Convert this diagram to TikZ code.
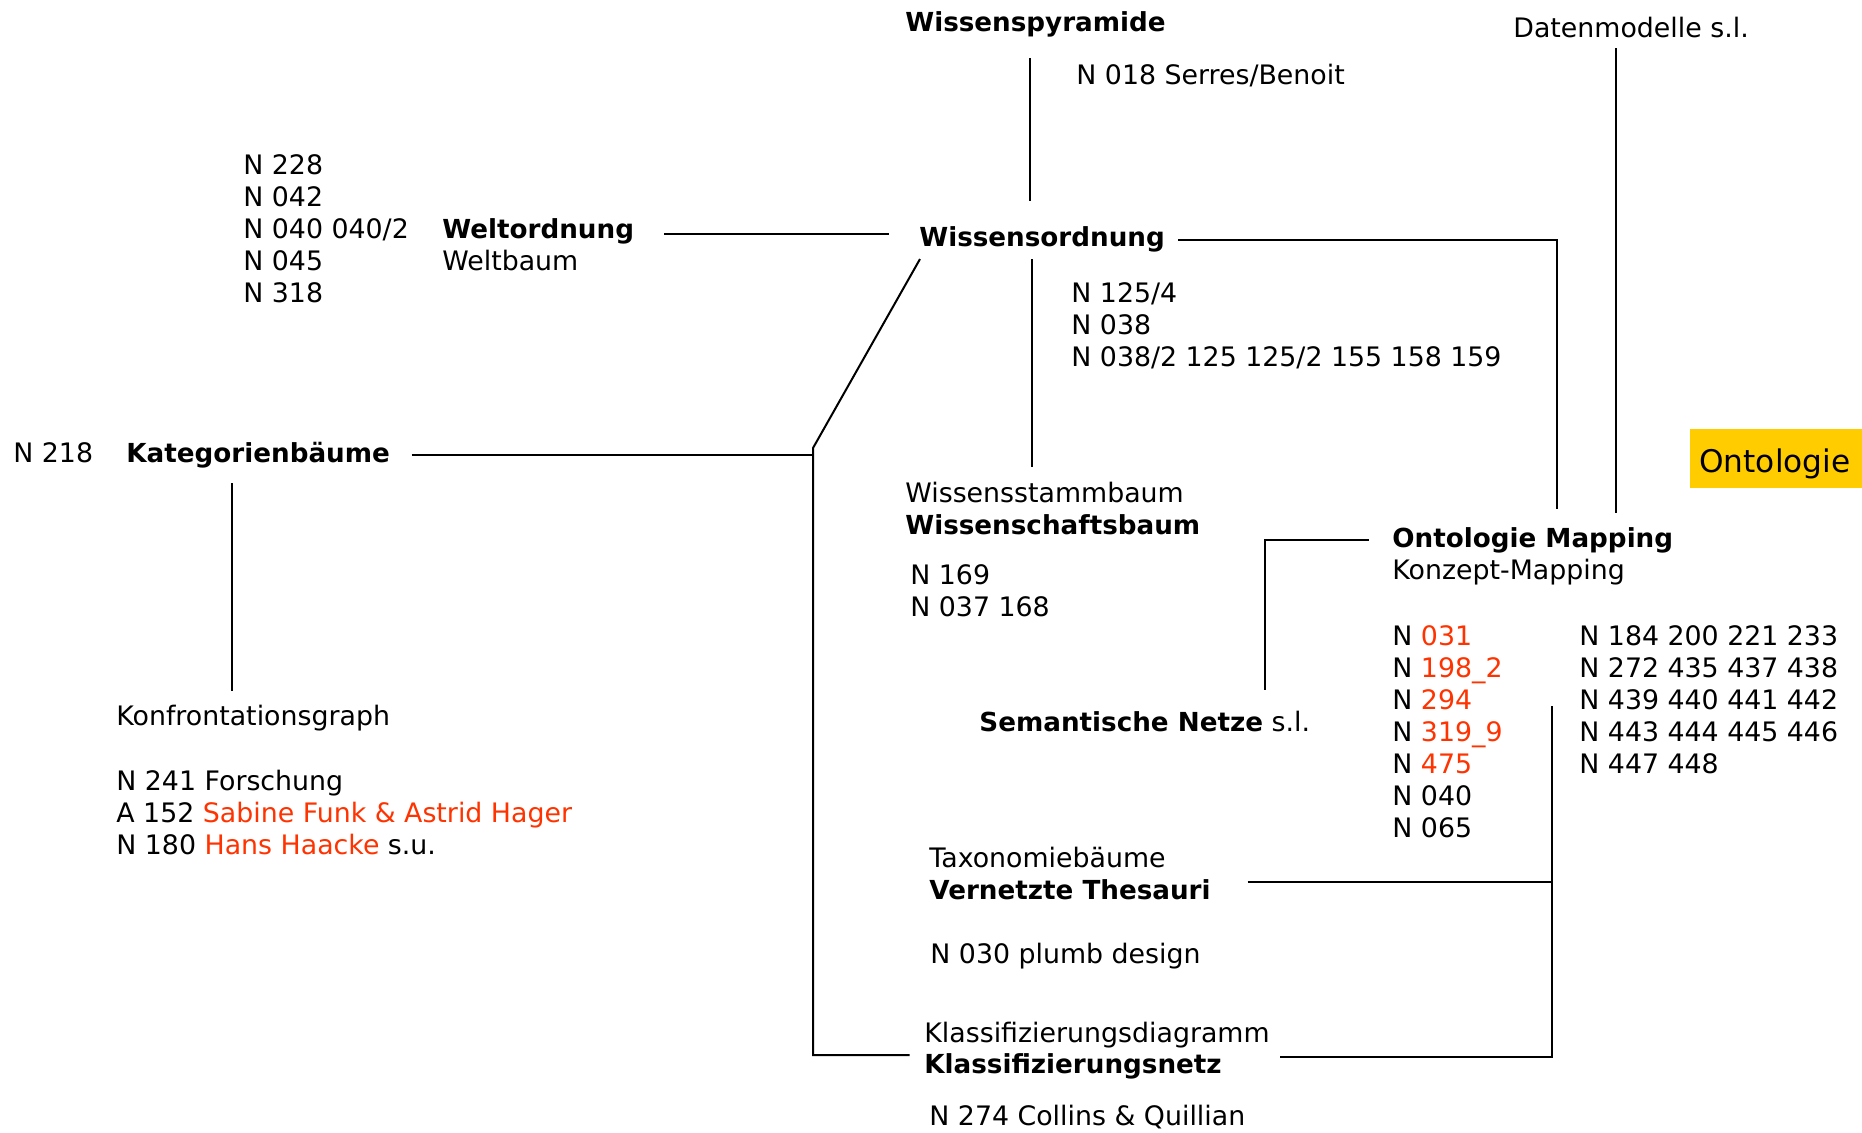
\documentclass[tikz,border=0pt]{standalone}
\usepackage{fontspec}
\setmainfont{DejaVu Sans}
\definecolor{hl}{HTML}{FF3300}
\definecolor{gold}{HTML}{FFCC00}
\newcommand\mybold[1]{{\fontsize{13.1}{16}\selectfont\bfseries #1}}
\begin{document}
\begin{tikzpicture}[x=0.5pt,y=-0.5pt,
  txt/.style={anchor=base west, inner sep=0pt, font=\fontsize{13.4}{16}\selectfont},
  bt/.style={txt, font=\fontsize{13.1}{16}\selectfont\bfseries},
  conn/.style={line width=1pt, black}]
\useasboundingbox (0,0) rectangle (1862,1132);

% texts
\node[bt]  (wp)  at (905,31)  {Wissenspyramide};
\node[txt] (sb)  at (1076,84) {N 018 Serres/Benoit};
\node[txt] (dm)  at (1513,37) {Datenmodelle s.l.};

\node[txt] (l1) at (243,174) {N 228};
\node[txt] (l2) at (243,206) {N 042};
\node[txt] (l3) at (243,238) {N 040 040/2};
\node[txt] (l4) at (243,270) {N 045};
\node[txt] (l5) at (243,302) {N 318};
\node[bt]  (wo) at (442,238) {Weltordnung};
\node[txt] (wb) at (442,270) {Weltbaum};

\node[bt]  (wso) at (919,246) {Wissensordnung};
\node[txt] (w1) at (1071,302) {N 125/4};
\node[txt] (w2) at (1071,334) {N 038};
\node[txt] (w3) at (1071,366) {N 038/2 125 125/2 155 158 159};

\node[txt] (n218) at (13,462) {N 218};
\node[bt]  (kb)   at (126,462) {Kategorienbäume};

\node[fill=gold, inner sep=0pt, minimum width=86pt, minimum height=29.5pt, anchor=north west] (ont) at (1690,429) {};
\node[txt, font=\fontsize{15.6}{18}\selectfont] (ontT) at (1699,472) {Ontologie};

\node[txt] (wsb)  at (905,502) {Wissensstammbaum};
\node[bt]  (wsch) at (905,534) {Wissenschaftsbaum};
\node[txt] (n169) at (910,584.5) {N 169};
\node[txt] (n037) at (910,616.5) {N 037 168};

\node[bt]  (om) at (1392,547) {Ontologie Mapping};
\node[txt] (km) at (1392,579) {Konzept-Mapping};
\node[txt] (r1) at (1392,645) {N \textcolor{hl}{031}};
\node[txt] (r2) at (1392,677) {N \textcolor{hl}{198\_2}};
\node[txt] (r3) at (1392,709) {N \textcolor{hl}{294}};
\node[txt] (r4) at (1392,741) {N \textcolor{hl}{319\_9}};
\node[txt] (r5) at (1392,773) {N \textcolor{hl}{475}};
\node[txt] (r6) at (1392,805) {N 040};
\node[txt] (r7) at (1392,837) {N 065};
\node[txt] (q1) at (1579,645) {N 184 200 221 233};
\node[txt] (q2) at (1579,677) {N 272 435 437 438};
\node[txt] (q3) at (1579,709) {N 439 440 441 442};
\node[txt] (q4) at (1579,741) {N 443 444 445 446};
\node[txt] (q5) at (1579,773) {N 447 448};

\node[txt] (sn) at (979,731) {\mybold{Semantische Netze} s.l.};

\node[txt] (kg) at (116,725.5) {Konfrontationsgraph};
\node[txt] (k1) at (116,790) {N 241 Forschung};
\node[txt] (k2) at (116,822) {A 152 \textcolor{hl}{Sabine Funk \& Astrid Hager}};
\node[txt] (k3) at (116,854) {N 180 \textcolor{hl}{Hans Haacke} s.u.};

\node[txt] (tx) at (929,867.5) {Taxonomiebäume};
\node[bt]  (vt) at (929,899) {Vernetzte Thesauri};
\node[txt] (pd) at (930,963) {N 030 plumb design};
\node[txt] (kd) at (924,1042) {Klassifizierungsdiagramm};
\node[bt]  (kn) at (924,1073) {Klassifizierungsnetz};
\node[txt] (cq) at (929,1125) {N 274 Collins \& Quillian};

% connector end points
\coordinate (wpA) at (1029.5,58);   \coordinate (wpB) at (1029.5,201);
\coordinate (woA) at (664,233.5);   \coordinate (woB) at (889,233.5);
\coordinate (wsoA) at (1178,240);   \coordinate (wsoC) at (1557,240); \coordinate (wsoB) at (1557,509);
\coordinate (dmA) at (1616,48);     \coordinate (dmB) at (1616,513);
\coordinate (wsoD) at (1032,259);   \coordinate (wsbU) at (1032,466.5);
\coordinate (diagT) at (920,259);   \coordinate (diagB) at (813,448);
\coordinate (kbA) at (411.5,455);   \coordinate (kbB) at (812,455);
\coordinate (kvC) at (813,1055);    \coordinate (kvE) at (909.5,1055);
\coordinate (kbD) at (231.5,483);   \coordinate (kgU) at (231.5,690.5);
\coordinate (omA) at (1368.5,540);  \coordinate (omC) at (1264.5,540); \coordinate (snU) at (1264.5,689.5);
\coordinate (rvT) at (1551.5,706);  \coordinate (rvC) at (1551.5,1057);
\coordinate (vtA) at (1247.5,882);  \coordinate (vtE) at (1551.5,882);
\coordinate (knA) at (1279.5,1057);

% connectors
\draw[conn] (wpA) -- (wpB);
\draw[conn] (woA) -- (woB);
\draw[conn] (wsoA) -- (wsoC) -- (wsoB);
\draw[conn] (dmA) -- (dmB);
\draw[conn] (wsoD) -- (wsbU);
\draw[conn] (diagT) -- (diagB) -- (kvC) -- (kvE);
\draw[conn] (kbA) -- (kbB);
\draw[conn] (kbD) -- (kgU);
\draw[conn] (omA) -- (omC) -- (snU);
\draw[conn] (rvT) -- (rvC) -- (knA);
\draw[conn] (vtA) -- (vtE);
\end{tikzpicture}
\end{document}
